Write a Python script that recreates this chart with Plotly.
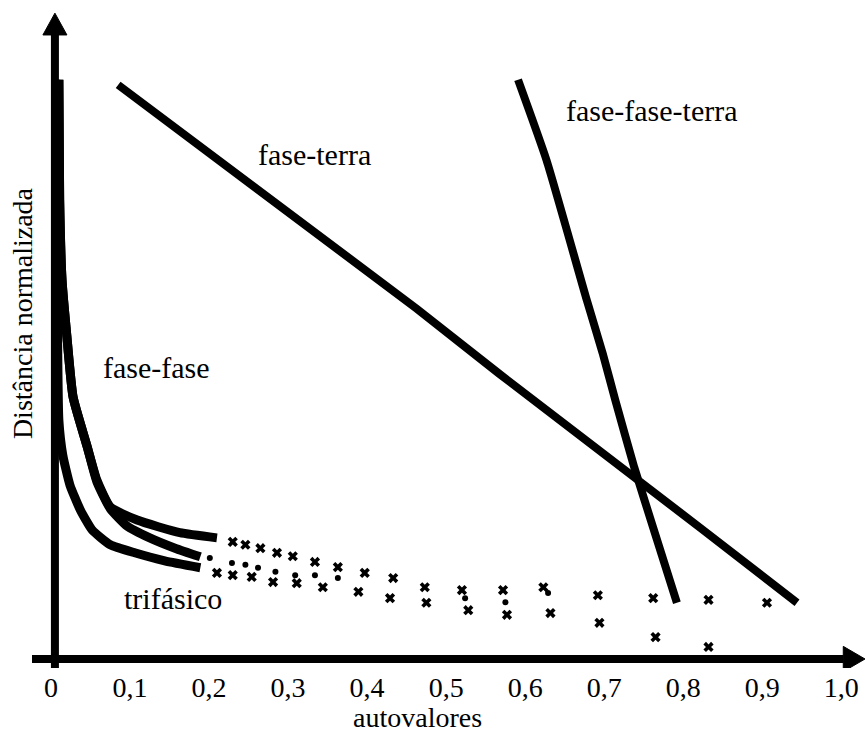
import plotly.graph_objects as go

# ---------------- data ----------------
# fase-terra (dense band)
ft_x = [0.085, 0.176, 0.294, 0.387, 0.463, 0.568, 0.695, 0.822, 0.944]
ft_y = [1.000, 0.906, 0.782, 0.686, 0.610, 0.496, 0.364, 0.228, 0.098]

# fase-fase-terra (dense band)
fft_x = [0.591, 0.627, 0.678, 0.698, 0.714, 0.738, 0.764, 0.792]
fft_y = [1.009, 0.869, 0.625, 0.533, 0.451, 0.334, 0.220, 0.098]

# fase-fase, upper branch (dense part)
ffa_x = [0.010, 0.011, 0.014, 0.020, 0.028, 0.046, 0.058, 0.075, 0.109, 0.163, 0.210]
ffa_y = [1.009, 0.800, 0.660, 0.564, 0.456, 0.369, 0.312, 0.265, 0.242, 0.220, 0.211]
# fase-fase, upper branch (sparse points)
ffa_px = [0.230, 0.246, 0.265, 0.286, 0.306, 0.334, 0.363, 0.397, 0.433, 0.473,
          0.520, 0.572, 0.623, 0.692, 0.762, 0.832, 0.906]
ffa_py = [0.204, 0.199, 0.193, 0.185, 0.179, 0.169, 0.160, 0.150, 0.141, 0.125,
          0.120, 0.120, 0.125, 0.111, 0.106, 0.103, 0.098]

# fase-fase, lower branch (dense part)
ffb_x = [0.010, 0.011, 0.014, 0.020, 0.028, 0.046, 0.058, 0.075, 0.096, 0.125, 0.157, 0.189]
ffb_y = [1.009, 0.800, 0.660, 0.564, 0.456, 0.369, 0.309, 0.262, 0.232, 0.211, 0.193, 0.178]
# fase-fase, lower branch (sparse points)
ffb_px = [0.201, 0.229, 0.246, 0.262, 0.284, 0.309, 0.334, 0.363, 0.524, 0.575, 0.629]
ffb_py = [0.176, 0.167, 0.164, 0.159, 0.152, 0.146, 0.146, 0.141, 0.106, 0.099, 0.115]

# trifásico (dense part)
tri_x = [0.006, 0.008, 0.010, 0.015, 0.024, 0.037, 0.052, 0.075, 0.106, 0.144, 0.189]
tri_y = [1.009, 0.625, 0.416, 0.355, 0.303, 0.260, 0.225, 0.199, 0.185, 0.171, 0.159]
# trifásico (sparse points)
tri_px = [0.210, 0.230, 0.254, 0.281, 0.311, 0.344, 0.389, 0.429, 0.475, 0.528,
          0.577, 0.632, 0.694, 0.765, 0.832]
tri_py = [0.150, 0.146, 0.143, 0.134, 0.132, 0.125, 0.117, 0.106, 0.098, 0.085,
          0.077, 0.080, 0.063, 0.038, 0.021]

tick_vals = [0, 0.1, 0.2, 0.3, 0.4, 0.5, 0.6, 0.7, 0.8, 0.9, 1.0]
tick_text = ["0", "0,1", "0,2", "0,3", "0,4", "0,5", "0,6", "0,7", "0,8", "0,9", "1,0"]

labels = ["fase-terra", "fase-fase-terra", "fase-fase", "trifásico"]
label_x = [0.334, 0.761, 0.134, 0.154]
label_y = [0.878, 0.955, 0.507, 0.106]

# ---------------- figure ----------------
FONT = "Liberation Serif, Times New Roman, serif"
X_MIN, X_MAX = -0.024, 1.030
Y_MIN, Y_MAX = -0.0157, 1.127

fig = go.Figure()

def band(x, y, w=9, smooth=True):
    line = dict(color="black", width=w)
    if smooth:
        line.update(shape="spline", smoothing=0.5)
    fig.add_trace(go.Scatter(x=x, y=y, mode="lines", line=line,
                             hoverinfo="skip", showlegend=False))

def pts(x, y, symbol, size):
    fig.add_trace(go.Scatter(x=x, y=y, mode="markers",
                             marker=dict(color="black", symbol=symbol, size=size,
                                         line=dict(width=0)),
                             hoverinfo="skip", showlegend=False))

band(ft_x, ft_y, w=8, smooth=False)
band(fft_x, fft_y, w=8, smooth=True)
band(ffa_x, ffa_y)
band(ffb_x, ffb_y)
band(tri_x, tri_y)
pts(ffa_px, ffa_py, "x", 9)
pts(ffb_px, ffb_py, "circle", 6)
pts(tri_px, tri_py, "x", 9)

# axes drawn as thick arrows
AX_X0 = 0.005   # vertical axis position
fig.add_shape(type="line", x0=X_MIN, x1=1.003, y0=0, y1=0, xref="x", yref="y",
              line=dict(color="black", width=8))
fig.add_shape(type="path", path=f"M 1.0025 -0.022 L {X_MAX} 0 L 1.0025 0.022 Z",
              xref="x", yref="y", fillcolor="black", line=dict(color="black", width=1))
fig.add_shape(type="line", x0=AX_X0, x1=AX_X0, y0=Y_MIN, y1=1.09, xref="x", yref="y",
              line=dict(color="black", width=8))
fig.add_shape(type="path", path=f"M {AX_X0-0.0152} 1.087 L {AX_X0} 1.125 L {AX_X0+0.0152} 1.087 Z",
              xref="x", yref="y", fillcolor="black", line=dict(color="black", width=1))

for t, x, y in zip(labels, label_x, label_y):
    fig.add_annotation(x=x, y=y, xref="x", yref="y", text=t, showarrow=False,
                       font=dict(family=FONT, size=30, color="black"),
                       bgcolor="white", xanchor="center", yanchor="middle")

fig.add_annotation(x=0.463, y=-0.076, xref="paper", yref="paper",
                   text="autovalores", showarrow=False, yanchor="middle", xanchor="center",
                   font=dict(family=FONT, size=28, color="black"))
fig.add_annotation(x=-0.012, y=0.541, xref="paper", yref="paper",
                   text="Distância normalizada", showarrow=False, textangle=-90,
                   xanchor="center", yanchor="middle",
                   font=dict(family=FONT, size=28, color="black"))

fig.update_layout(
    width=865, height=733,
    margin=dict(l=32, r=0, t=12, b=65),
    paper_bgcolor="white", plot_bgcolor="white",
    xaxis=dict(range=[X_MIN, X_MAX], tickvals=tick_vals, ticktext=tick_text,
               showgrid=False, zeroline=False, showline=False, ticks="",
               automargin=False,
               tickfont=dict(family=FONT, size=28, color="black")),
    yaxis=dict(range=[Y_MIN, Y_MAX], showgrid=False, zeroline=False, showline=False,
               showticklabels=False, ticks="", automargin=False),
)

fig.write_html("out.html", config={"displayModeBar": False},
               post_script="document.body.style.margin='0px';document.body.style.overflow='hidden';")
